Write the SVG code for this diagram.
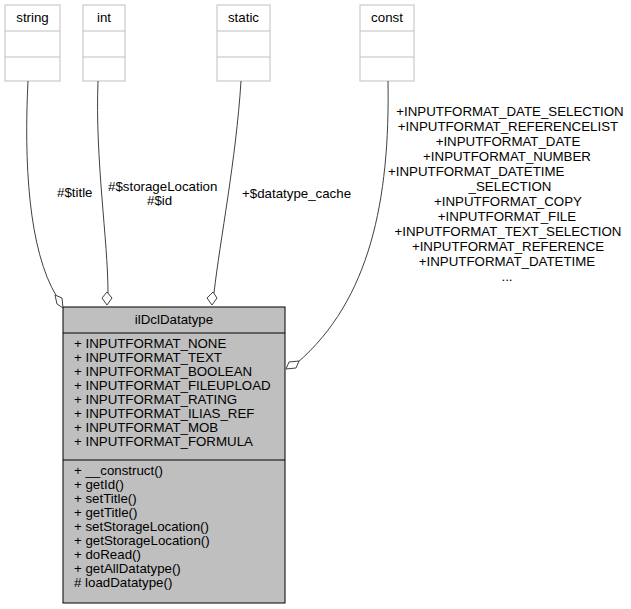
<svg xmlns="http://www.w3.org/2000/svg" width="631" height="609" viewBox="0 0 631 609">
<style>
text{font-family:"Liberation Sans",Arial,sans-serif;font-size:13.3px;fill:#000}
.e{fill:#fff;stroke:#bfbfbf}
.m{fill:#bfbfbf;stroke:#000}
.c{fill:none;stroke:#404040}
.d{fill:#fff;stroke:#404040}
</style>
<rect width="631" height="609" fill="#fff"/>
<g id="string"><rect class="e" x="5" y="5" width="55" height="76"/><line class="e" x1="5" y1="31" x2="60" y2="31"/><line class="e" x1="5" y1="57" x2="60" y2="57"/><text x="32.5" y="22" text-anchor="middle">string</text></g>
<g id="int"><rect class="e" x="83" y="5" width="42" height="76"/><line class="e" x1="83" y1="31" x2="125" y2="31"/><line class="e" x1="83" y1="57" x2="125" y2="57"/><text x="104" y="22" text-anchor="middle">int</text></g>
<g id="static"><rect class="e" x="217" y="5" width="53" height="76"/><line class="e" x1="217" y1="31" x2="270" y2="31"/><line class="e" x1="217" y1="57" x2="270" y2="57"/><text x="243.5" y="22" text-anchor="middle">static</text></g>
<g id="const"><rect class="e" x="360" y="5" width="54" height="76"/><line class="e" x1="360" y1="31" x2="414" y2="31"/><line class="e" x1="360" y1="57" x2="414" y2="57"/><text x="387" y="22" text-anchor="middle">const</text></g>
<g id="ilDclDatatype">
<rect class="m" x="63" y="307" width="222" height="296"/>
<line class="m" x1="63" y1="333" x2="285" y2="333"/>
<line class="m" x1="63" y1="460" x2="285" y2="460"/>
<text x="174" y="324" text-anchor="middle">ilDclDatatype</text>
<text x="74" y="348">+ INPUTFORMAT_NONE</text>
<text x="74" y="362">+ INPUTFORMAT_TEXT</text>
<text x="74" y="376">+ INPUTFORMAT_BOOLEAN</text>
<text x="74" y="390">+ INPUTFORMAT_FILEUPLOAD</text>
<text x="74" y="404">+ INPUTFORMAT_RATING</text>
<text x="74" y="418">+ INPUTFORMAT_ILIAS_REF</text>
<text x="74" y="432">+ INPUTFORMAT_MOB</text>
<text x="74" y="446">+ INPUTFORMAT_FORMULA</text>
<text x="74" y="475">+ __construct()</text>
<text x="74" y="489">+ getId()</text>
<text x="74" y="503">+ setTitle()</text>
<text x="74" y="517">+ getTitle()</text>
<text x="74" y="531">+ setStorageLocation()</text>
<text x="74" y="545">+ getStorageLocation()</text>
<text x="74" y="559">+ doRead()</text>
<text x="74" y="573">+ getAllDatatype()</text>
<text x="74" y="587"># loadDatatype()</text>
</g>
<g id="connectors">
<path class="c" d="M28,81 C24,160 28,250 57,297"/>
<path class="d" d="M63,308 L62,298 L55,295 L57,304 Z"/>
<path class="c" d="M98,81 C95,160 108,240 108,293"/>
<path class="d" d="M107,305 L112,298 L107,292 L102,298 Z"/>
<path class="c" d="M241,81 C236,160 220,240 214,293"/>
<path class="d" d="M212,305 L217,298 L213,292 L207,298 Z"/>
<path class="c" d="M388,81 C390,200 370,300 297,363"/>
<path class="d" d="M286,369 L296,368 L299,361 L289,362 Z"/>
<text x="57" y="197">#$title</text>
<text x="108" y="191">#$storageLocation</text>
<text x="147" y="205">#$id</text>
<text x="242" y="198">+$datatype_cache</text>
<g text-anchor="middle">
<text x="510" y="116">+INPUTFORMAT_DATE_SELECTION</text>
<text x="508" y="131">+INPUTFORMAT_REFERENCELIST</text>
<text x="508" y="146">+INPUTFORMAT_DATE</text>
<text x="507" y="161">+INPUTFORMAT_NUMBER</text>
<text x="510" y="191">_SELECTION</text>
<text x="508" y="206">+INPUTFORMAT_COPY</text>
<text x="507" y="221">+INPUTFORMAT_FILE</text>
<text x="508" y="236">+INPUTFORMAT_TEXT_SELECTION</text>
<text x="508" y="251">+INPUTFORMAT_REFERENCE</text>
<text x="507" y="266">+INPUTFORMAT_DATETIME</text>
<text x="507" y="281">...</text>
</g>
<text x="388" y="176">+INPUTFORMAT_DATETIME</text>
</g>
</svg>
